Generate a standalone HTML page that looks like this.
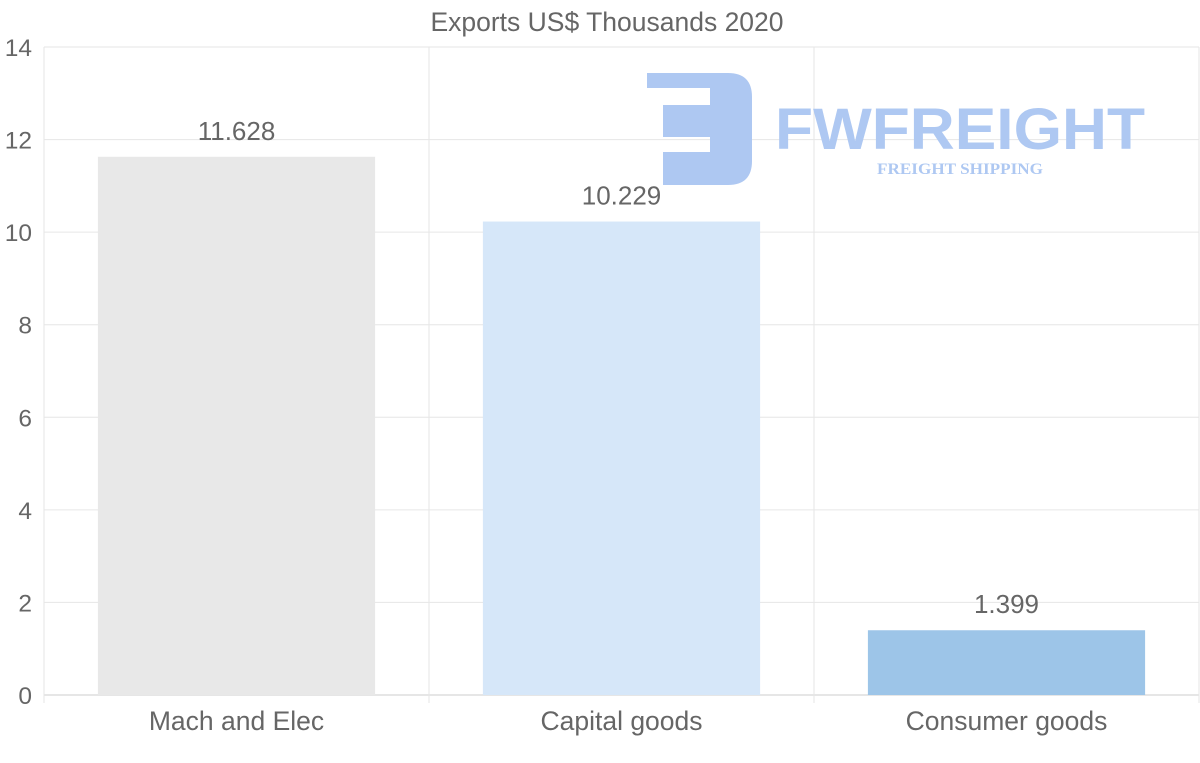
<!DOCTYPE html>
<html><head><meta charset="utf-8"><style>
html,body{margin:0;padding:0;background:#fff;}
svg{display:block;font-family:"Liberation Sans",Arial,sans-serif;}
</style></head><body>
<svg id="chart" width="1200" height="763">
<g id="grid"></g>
<g id="watermark" fill="#aec8f2">
  <path d="M647 73 H728 Q752 73 752 97 V161 Q752 185 728 185 H663 V152 H710 V137 H663 V105 H710 V88 H647 Z"/>
  <text x="960" y="149" text-anchor="middle" font-size="58" font-weight="bold" textLength="370" lengthAdjust="spacingAndGlyphs">FWFREIGHT</text>
  <text x="960" y="174" text-anchor="middle" font-size="16" font-weight="bold" font-family="Liberation Serif,serif" textLength="166" lengthAdjust="spacingAndGlyphs">FREIGHT SHIPPING</text>
</g>
<g id="bars"></g>
<text x="607" y="31" text-anchor="middle" font-size="26.5" fill="#666">Exports US$ Thousands 2020</text>
</svg>
<script>
const categories=["Mach and Elec","Capital goods","Consumer goods"];
const values=[11.628,10.229,1.399];
const valueLabels=["11.628","10.229","1.399"];
const yTicks=[0,2,4,6,8,10,12,14];
const colors=["#e8e8e8","#d6e7f9","#9dc5e8"];
const NS="http://www.w3.org/2000/svg";
const L=44,R=1199,T=47,B=695,yMax=14;
const y=v=>B-(v/yMax)*(B-T);
const bw=(R-L)/categories.length;
const x=i=>L+bw*i;
function mk(t,a,p){const e=document.createElementNS(NS,t);for(const k in a)e.setAttribute(k,a[k]);p.appendChild(e);return e;}
const grid=document.getElementById('grid'),bars=document.getElementById('bars');
yTicks.forEach(t=>{
  const l=mk('line',{x1:L,x2:R,y1:y(t),y2:y(t),stroke:t===0?'#ccc':'#e6e6e6','stroke-width':1},grid);
  
  
  const tx=mk('text',{x:32,y:y(t)+9,'text-anchor':'end','font-size':24.5,fill:'#666'},grid);
  tx.textContent=t;
  
  
});
for(let i=0;i<=categories.length;i++){
  const l=mk('line',{x1:x(i),x2:x(i),y1:T,y2:B+8,stroke:'#e6e6e6','stroke-width':1},grid);
  
  
}
categories.forEach((c,i)=>{
  const bx=x(i)+bw*0.14,w=bw*0.72;
  const r=mk('rect',{x:bx,y:y(values[i]),width:w,height:B-y(values[i]),fill:colors[i]},bars);
  
  
  const vl=mk('text',{x:x(i)+bw/2,y:y(values[i])-17,'text-anchor':'middle','font-size':26,fill:'#666'},bars);
  vl.textContent=valueLabels[i];
  
  
  const cl=mk('text',{x:x(i)+bw/2,y:730,'text-anchor':'middle','font-size':26.5,fill:'#666'},bars);
  cl.textContent=c;
  
  
});
</script>
</body></html>
